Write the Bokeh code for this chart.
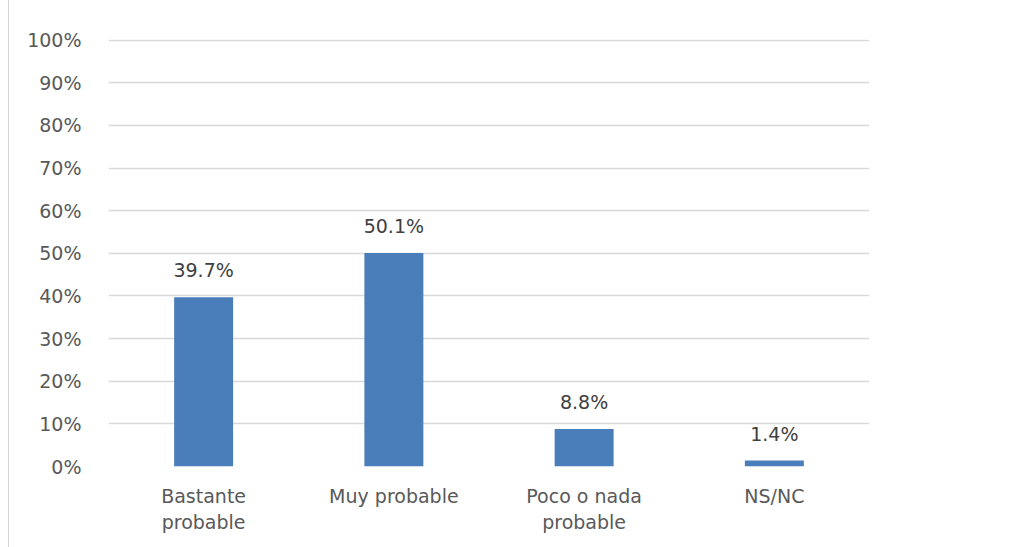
from bokeh.plotting import figure
from bokeh.models import ColumnDataSource, NumeralTickFormatter, FixedTicker, LabelSet
from bokeh.core.properties import value
from bokeh.embed import file_html
from bokeh.resources import INLINE

categories = ["Bastante\nprobable", "Muy probable", "Poco o nada\nprobable", "NS/NC"]
values = [0.397, 0.501, 0.088, 0.014]
labels = ["39.7%", "50.1%", "8.8%", "1.4%"]
y_ticks = [0, 0.1, 0.2, 0.3, 0.4, 0.5, 0.6, 0.7, 0.8, 0.9, 1.0]

FONT = "DejaVu Sans"
TXT = "#595959"

src = ColumnDataSource(dict(cat=categories, val=values, lab=labels))

p = figure(x_range=categories, y_range=(0, 1.0015), width=1019, height=547,
           output_backend="svg", toolbar_location=None,
           min_border_left=99, min_border_right=159, min_border_top=39, min_border_bottom=81)
p.margin = (0, 0, 0, 8)
p.styles = {"border-left": "1px solid #d6d6d6"}
p.outline_line_color = None
p.background_fill_color = "white"

p.vbar(x="cat", top="val", width=0.31, source=src, fill_color="#4a7ebb", line_color=None)

p.add_layout(LabelSet(x="cat", y="val", text="lab", source=src, text_align="center",
                      text_baseline="bottom", y_offset=16, text_font=value(FONT),
                      text_font_size="19px", text_color="#404040"))

p.yaxis.ticker = FixedTicker(ticks=y_ticks)
p.yaxis.formatter = NumeralTickFormatter(format="0%")
for ax in (p.xaxis, p.yaxis):
    ax.axis_line_color = None
    ax.major_tick_line_color = None
    ax.minor_tick_line_color = None
    ax.major_label_text_font = FONT
    ax.major_label_text_font_size = "19px"
    ax.major_label_text_color = TXT
p.yaxis.major_label_standoff = 21
p.xaxis.major_label_standoff = 12
p.xgrid.grid_line_color = None
p.ygrid.grid_line_color = "#d9d9d9"
p.ygrid.grid_line_width = 1.5

open("out.html", "w").write(file_html(p, INLINE))
